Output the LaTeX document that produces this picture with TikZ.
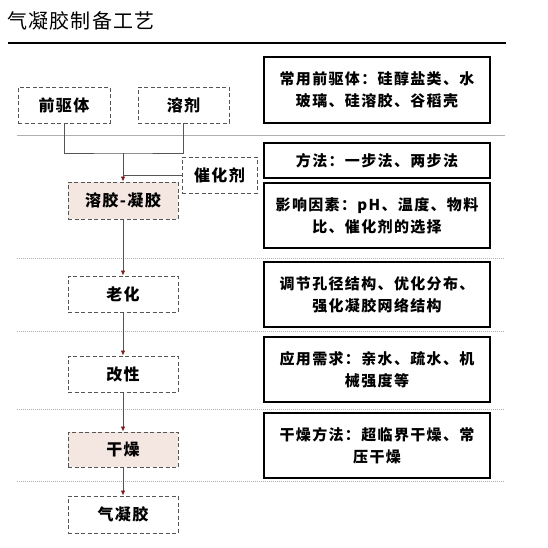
\documentclass[tikz,border=0pt]{standalone}
\usepackage{fontspec}
\usetikzlibrary{arrows.meta}
\newfontfamily\cjk[LetterSpace=9]{Noto Sans CJK SC}
\newfontfamily\cjktitle[LetterSpace=6]{Noto Sans CJK SC}
\definecolor{pinkfill}{RGB}{244,231,226}
\definecolor{arrowred}{RGB}{120,30,30}
\definecolor{linebrown}{RGB}{110,70,70}
\definecolor{dashgray}{RGB}{85,85,85}
\definecolor{sepgray}{RGB}{175,175,175}
\tikzset{
  stepbox/.style={draw=dashgray, line width=0.9pt, dash pattern=on 4pt off 2.5pt,
    minimum width=110pt, minimum height=36pt, inner sep=0pt,
    font=\cjk\bfseries\fontsize{16}{18}\selectfont},
  pinkbox/.style={stepbox, fill=pinkfill},
  infobox/.style={draw=black, line width=1.3pt, minimum width=226pt, inner sep=0pt,
    align=center, font=\cjk\bfseries\fontsize{15}{22}\selectfont},
  flowline/.style={draw=linebrown, line width=0.8pt},
  feedline/.style={draw=dashgray, line width=0.8pt},
  flowarrow/.style={flowline, -{Latex[length=5pt,width=4.5pt,color=arrowred]}},
  seprule/.style={draw=sepgray, line width=0.7pt},
  dotrule/.style={draw=sepgray, line width=0.8pt, dash pattern=on 1pt off 1pt},
}
\begin{document}
\begin{tikzpicture}[x=1pt,y=-1pt]
\useasboundingbox (0,0) rectangle (548,547);
% title
\node[anchor=west, inner sep=0pt, font=\cjktitle\fontsize{20}{22}\selectfont] (title) at (7,21) {气凝胶制备工艺};
\draw[line width=1.8pt] (8,43) -- (506,43);
% separators
\draw[seprule] (17,135) -- (505,135);
\draw[dotrule] (17,258) -- (505,258);
\draw[dotrule] (17,331) -- (505,331);
\draw[dotrule] (17,409) -- (505,409);
\draw[dotrule] (17,481) -- (505,481);
% left flow nodes
\node[stepbox, minimum width=92pt] (pre) at (64,105) {前驱体};
\node[stepbox, minimum width=91pt] (solv) at (183.5,105) {溶剂};
\node[stepbox, minimum width=75pt] (cat) at (219.5,175) {催化剂};
\node[pinkbox, minimum height=37pt] (sol) at (123,200.5) {溶胶-凝胶};
\node[stepbox] (age) at (123,294) {老化};
\node[stepbox] (mod) at (123,374) {改性};
\node[pinkbox, minimum height=35pt] (dry) at (123,449.5) {干燥};
\node[stepbox, minimum height=37pt] (aero) at (123,514.5) {气凝胶};
% right info boxes
\node[infobox, minimum height=66pt] (r1) at (377,90) {常用前驱体：硅醇盐类、水\\玻璃、硅溶胶、谷稻壳};
\node[infobox, minimum height=35pt] (r2) at (377,160.5) {方法：一步法、两步法};
\node[infobox, minimum height=65pt] (r3) at (377,215.5) {影响因素：pH、温度、物料\\比、催化剂的选择};
\node[infobox, minimum height=65pt] (r4) at (377,294.5) {调节孔径结构、优化分布、\\强化凝胶网络结构};
\node[infobox, minimum height=65pt] (r5) at (377,369.5) {应用需求：亲水、疏水、机\\械强度等};
\node[infobox, minimum height=65pt] (r6) at (377,445.5) {干燥方法：超临界干燥、常\\压干燥};
% connectors
\coordinate (join) at (123,153);
\draw[feedline] (pre.south) |- (join) -| (solv.south);
\draw[feedline] (cat.west) -- (cat.west -| join);
\draw[flowarrow] (join) -- (sol.north);
\draw[flowarrow] (sol.south) -- (age.north);
\draw[flowarrow] (age.south) -- (mod.north);
\draw[flowarrow] (mod.south) -- (dry.north);
\draw[flowarrow] (dry.south) -- (aero.north);
\end{tikzpicture}
\end{document}
